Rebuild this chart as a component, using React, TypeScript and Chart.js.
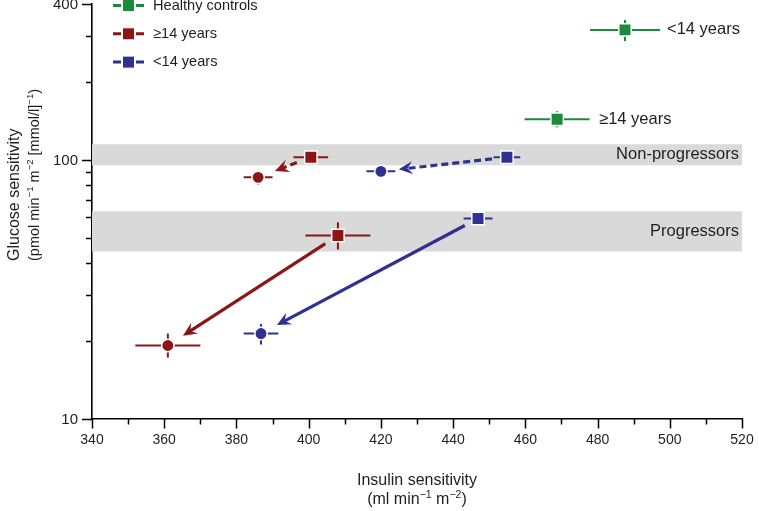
import { useEffect, useRef } from "react";
import { Chart, registerables } from "chart.js";

Chart.register(...registerables);

const FONT = "'Liberation Sans', Arial, Helvetica, sans-serif";
const TEXT = "#1e1e1e";
const GREEN = "#1b8a3c";
const RED = "#8c1616";
const BLUE = "#2e3192";
const BAND = "#d9d9d9";

// ---- axis ticks ----
const xMin = 340;
const xMax = 520;
const xMajorTicks = [340, 360, 380, 400, 420, 440, 460, 480, 500, 520];
const xMinorTicks = [350, 370, 390, 410, 430, 450, 470, 490, 510];
const yMin = 10;
const yMax = 400;
const yMajorTicks = [10, 100, 400];
const yMinorTicks = [20, 30, 40, 50, 60, 70, 80, 90, 200, 300];

// ---- legend / groups ----
const groupNames = ["Healthy controls", "≥14 years", "<14 years"];

// ---- healthy controls: [≥14 years, <14 years] ----
const healthyLabels = ["≥14 years", "<14 years"];
const healthyX = [468.8, 487.6];
const healthyY = [143.5, 317.7];
const healthyXErr = [9.0, 9.7];
const healthyYLow = [133.6, 288];
const healthyYHigh = [154, 347];

// ---- ≥14 years: [non-progressors, progressors] ----
const olderBaseX = [400.6, 408.1];
const olderBaseY = [102.3, 51.0];
const olderBaseXErr = [4.8, 9.0];
const olderBaseYLow = [97.5, 45.0];
const olderBaseYHigh = [108, 57.3];
const olderFollowX = [386.0, 361.0];
const olderFollowY = [85.5, 19.15];
const olderFollowXErr = [4.0, 9.0];
const olderFollowYLow = [80.3, 17.2];
const olderFollowYHigh = [90.2, 21.3];

// ---- <14 years: [non-progressors, progressors] ----
const youngBaseX = [454.9, 446.9];
const youngBaseY = [102.3, 59.3];
const youngBaseXErr = [3.7, 4.0];
const youngBaseYLow = [99.6, 56.3];
const youngBaseYHigh = [105, 62.6];
const youngFollowX = [420.0, 386.8];
const youngFollowY = [90.2, 21.3];
const youngFollowXErr = [4.0, 4.8];
const youngFollowYLow = [87.8, 19.3];
const youngFollowYHigh = [92.7, 23.2];

// ---- shaded bands ----
const bandNames = ["Non-progressors", "Progressors"];
const bandLow = [95.2, 44.2];
const bandHigh = [114.8, 63.2];

// ---- axis titles ----
type Part = [string, boolean];
const yTitle1: Part[] = [["Glucose sensitivity", false]];
const yTitle2: Part[] = [
  ["(pmol min", false],
  ["−1", true],
  [" m", false],
  ["−2", true],
  [" [mmol/l]", false],
  ["−1", true],
  [")", false],
];
const xTitle1: Part[] = [["Insulin sensitivity", false]];
const xTitle2: Part[] = [
  ["(ml min", false],
  ["−1", true],
  [" m", false],
  ["−2", true],
  [")", false],
];

const pts = (xs: number[], ys: number[]) => xs.map((x, i) => ({ x, y: ys[i] }));

function richWidth(ctx: CanvasRenderingContext2D, parts: Part[], size: number) {
  let w = 0;
  for (const [t, s] of parts) {
    ctx.font = `${s ? size * 0.66 : size}px ${FONT}`;
    w += ctx.measureText(t).width;
  }
  return w;
}

function drawRich(
  ctx: CanvasRenderingContext2D,
  parts: Part[],
  x: number,
  y: number,
  size: number,
  align: "left" | "center"
) {
  const total = richWidth(ctx, parts, size);
  let cx = align === "center" ? x - total / 2 : x;
  ctx.textAlign = "left";
  ctx.textBaseline = "middle";
  ctx.fillStyle = TEXT;
  for (const [t, s] of parts) {
    ctx.font = `${s ? size * 0.66 : size}px ${FONT}`;
    ctx.fillText(t, cx, s ? y - size * 0.33 : y);
    cx += ctx.measureText(t).width;
  }
}

function drawArrow(
  ctx: CanvasRenderingContext2D,
  x1: number,
  y1: number,
  x2: number,
  y2: number,
  color: string,
  dashed: boolean
) {
  const ang = Math.atan2(y2 - y1, x2 - x1);
  const headLen = 14;
  const headW = 6.5;
  const sx = x2 - Math.cos(ang) * headLen * 0.6;
  const sy = y2 - Math.sin(ang) * headLen * 0.6;
  ctx.save();
  ctx.strokeStyle = color;
  ctx.fillStyle = color;
  ctx.lineWidth = 3.2;
  ctx.setLineDash(dashed ? [7, 4] : []);
  ctx.beginPath();
  ctx.moveTo(x1, y1);
  ctx.lineTo(sx, sy);
  ctx.stroke();
  ctx.setLineDash([]);
  ctx.translate(x2, y2);
  ctx.rotate(ang);
  ctx.beginPath();
  ctx.moveTo(0, 0);
  ctx.lineTo(-headLen, -headW);
  ctx.lineTo(-headLen * 0.62, 0);
  ctx.lineTo(-headLen, headW);
  ctx.closePath();
  ctx.fill();
  ctx.restore();
}

const bandsArrowsErrors = {
  id: "bandsArrowsErrors",
  beforeDatasetsDraw(chart: any) {
    const { ctx, scales } = chart;
    const xs = scales.x;
    const ys = scales.y;
    ctx.save();
    // bands
    bandNames.forEach((name, i) => {
      const top = ys.getPixelForValue(bandHigh[i]);
      const bot = ys.getPixelForValue(bandLow[i]);
      const left = xs.getPixelForValue(xMin);
      const right = xs.getPixelForValue(xMax);
      ctx.fillStyle = BAND;
      ctx.fillRect(left, top, right - left, bot - top);
      ctx.fillStyle = TEXT;
      ctx.font = `16.5px ${FONT}`;
      ctx.textAlign = "right";
      ctx.textBaseline = "middle";
      ctx.fillText(name, right - 3, (top + bot) / 2);
    });
    // arrows
    const groups = [
      { bx: olderBaseX, by: olderBaseY, fx: olderFollowX, fy: olderFollowY, c: RED },
      { bx: youngBaseX, by: youngBaseY, fx: youngFollowX, fy: youngFollowY, c: BLUE },
    ];
    groups.forEach((g) => {
      g.bx.forEach((_, i) => {
        const x1 = xs.getPixelForValue(g.bx[i]);
        const y1 = ys.getPixelForValue(g.by[i]);
        const x2 = xs.getPixelForValue(g.fx[i]);
        const y2 = ys.getPixelForValue(g.fy[i]);
        const d = Math.hypot(x2 - x1, y2 - y1);
        const ux = (x2 - x1) / d;
        const uy = (y2 - y1) / d;
        const startGap = 15;
        const endGap = 18;
        drawArrow(
          ctx,
          x1 + ux * startGap,
          y1 + uy * startGap,
          x2 - ux * endGap,
          y2 - uy * endGap,
          g.c,
          i === 0
        );
      });
    });
    // error bars
    chart.data.datasets.forEach((ds: any) => {
      ctx.strokeStyle = ds.backgroundColor;
      ctx.lineWidth = 2;
      ds.data.forEach((p: any, i: number) => {
        const px = xs.getPixelForValue(p.x);
        const py = ys.getPixelForValue(p.y);
        const xl = xs.getPixelForValue(p.x - ds.errX[i]);
        const xr = xs.getPixelForValue(p.x + ds.errX[i]);
        const yt = ys.getPixelForValue(ds.errHi[i]);
        const yb = ys.getPixelForValue(ds.errLo[i]);
        ctx.beginPath();
        ctx.moveTo(xl, py);
        ctx.lineTo(xr, py);
        ctx.moveTo(px, yt);
        ctx.lineTo(px, yb);
        ctx.stroke();
      });
    });
    ctx.restore();
  },
  afterDraw(chart: any) {
    const { ctx, chartArea, scales } = chart;
    const xs = scales.x;
    const ys = scales.y;
    ctx.save();
    // tick marks
    ctx.strokeStyle = "#000";
    ctx.lineWidth = 1.5;
    ctx.beginPath();
    xMajorTicks.forEach((v) => {
      const p = Math.round(xs.getPixelForValue(v)) + 0.5;
      ctx.moveTo(p, chartArea.bottom);
      ctx.lineTo(p, chartArea.bottom + 10);
    });
    xMinorTicks.forEach((v) => {
      const p = Math.round(xs.getPixelForValue(v)) + 0.5;
      ctx.moveTo(p, chartArea.bottom);
      ctx.lineTo(p, chartArea.bottom + 6);
    });
    yMajorTicks.forEach((v) => {
      const p = Math.round(ys.getPixelForValue(v)) + 0.5;
      ctx.moveTo(chartArea.left, p);
      ctx.lineTo(chartArea.left - 10, p);
    });
    yMinorTicks.forEach((v) => {
      const p = Math.round(ys.getPixelForValue(v)) + 0.5;
      ctx.moveTo(chartArea.left, p);
      ctx.lineTo(chartArea.left - 6, p);
    });
    ctx.stroke();

    // y tick labels
    ctx.fillStyle = TEXT;
    ctx.font = `15px ${FONT}`;
    ctx.textAlign = "right";
    ctx.textBaseline = "middle";
    yMajorTicks.forEach((v) => {
      ctx.fillText(String(v), chartArea.left - 14, ys.getPixelForValue(v) + 1);
    });

    // healthy control labels
    ctx.font = `16.5px ${FONT}`;
    ctx.textAlign = "left";
    healthyLabels.forEach((t, i) => {
      const px = xs.getPixelForValue(healthyX[i]);
      const py = ys.getPixelForValue(healthyY[i]);
      ctx.fillText(t, px + 42, py);
    });

    // axis titles
    const cx = (chartArea.left + chartArea.right) / 2;
    drawRich(ctx, xTitle1, cx, 481, 16, "center");
    drawRich(ctx, xTitle2, cx, 500, 16, "center");
    ctx.save();
    ctx.rotate(-Math.PI / 2);
    drawRich(ctx, yTitle1, -261, 15, 16, "left");
    drawRich(ctx, yTitle2, -261, 35, 14.5, "left");
    ctx.restore();

    // legend
    const colors = [GREEN, RED, BLUE];
    groupNames.forEach((name, i) => {
      const y = 5.5 + i * 28.3;
      ctx.strokeStyle = colors[i];
      ctx.lineWidth = 3;
      ctx.beginPath();
      ctx.moveTo(113, y);
      ctx.lineTo(121, y);
      ctx.moveTo(136, y);
      ctx.lineTo(144, y);
      ctx.stroke();
      ctx.fillStyle = colors[i];
      ctx.fillRect(122.5, y - 6, 12, 12);
      ctx.strokeStyle = "#fff";
      ctx.lineWidth = 1;
      ctx.strokeRect(122.5, y - 6, 12, 12);
      ctx.fillStyle = TEXT;
      ctx.font = `14.6px ${FONT}`;
      ctx.textAlign = "left";
      ctx.textBaseline = "middle";
      ctx.fillText(name, 153, y);
    });
    ctx.restore();
  },
};

function makeDataset(
  label: string,
  xs: number[],
  ys: number[],
  errX: number[],
  errLo: number[],
  errHi: number[],
  color: string,
  style: string
) {
  return {
    label,
    data: pts(xs, ys),
    errX,
    errLo,
    errHi,
    pointStyle: style,
    pointRadius: style === "rect" ? 8.8 : 6.2,
    backgroundColor: color,
    borderColor: "#ffffff",
    borderWidth: 1.5,
    showLine: false,
    clip: false,
  };
}

export default function App() {
  const ref = useRef<HTMLCanvasElement | null>(null);

  useEffect(() => {
    document.body.style.margin = "0";
    if (!ref.current) return;
    const chart = new Chart(ref.current, {
      type: "scatter",
      data: {
        datasets: [
          makeDataset("Healthy controls", healthyX, healthyY, healthyXErr, healthyYLow, healthyYHigh, GREEN, "rect"),
          makeDataset("≥14 years baseline", olderBaseX, olderBaseY, olderBaseXErr, olderBaseYLow, olderBaseYHigh, RED, "rect"),
          makeDataset("≥14 years follow-up", olderFollowX, olderFollowY, olderFollowXErr, olderFollowYLow, olderFollowYHigh, RED, "circle"),
          makeDataset("<14 years baseline", youngBaseX, youngBaseY, youngBaseXErr, youngBaseYLow, youngBaseYHigh, BLUE, "rect"),
          makeDataset("<14 years follow-up", youngFollowX, youngFollowY, youngFollowXErr, youngFollowYLow, youngFollowYHigh, BLUE, "circle"),
        ] as any,
      },
      options: {
        animation: false,
        responsive: true,
        maintainAspectRatio: false,
        events: [],
        layout: { autoPadding: false, padding: { top: 4, right: 17, left: 0, bottom: 0 } },
        plugins: {
          legend: { display: false },
          tooltip: { enabled: false },
        },
        scales: {
          x: {
            type: "linear",
            min: xMin,
            max: xMax,
            afterBuildTicks: (s: any) => {
              s.ticks = xMajorTicks.map((v) => ({ value: v }));
            },
            afterFit: (s: any) => {
              s.height = 92.5;
              s.paddingLeft = 0;
              s.paddingRight = 0;
            },
            ticks: {
              color: TEXT,
              font: { family: FONT, size: 14 },
              padding: 13,
              maxRotation: 0,
              autoSkip: false,
              callback: (v: any) => String(v),
            },
            grid: { display: false, drawTicks: false },
            border: { display: true, color: "#000", width: 1.6 },
          },
          y: {
            type: "logarithmic",
            min: yMin,
            max: yMax,
            afterBuildTicks: (s: any) => {
              s.ticks = yMajorTicks.map((v) => ({ value: v, major: true }));
            },
            afterFit: (s: any) => {
              s.width = 92;
              s.paddingTop = 0;
              s.paddingBottom = 0;
            },
            ticks: { display: false },
            grid: { display: false, drawTicks: false },
            border: { display: true, color: "#000", width: 1.6 },
          },
        },
      },
      plugins: [bandsArrowsErrors],
    });
    return () => chart.destroy();
  }, []);

  return (
    <div style={{ width: 759, height: 511, position: "relative", background: "#fff" }}>
      <canvas ref={ref} />
    </div>
  );
}
